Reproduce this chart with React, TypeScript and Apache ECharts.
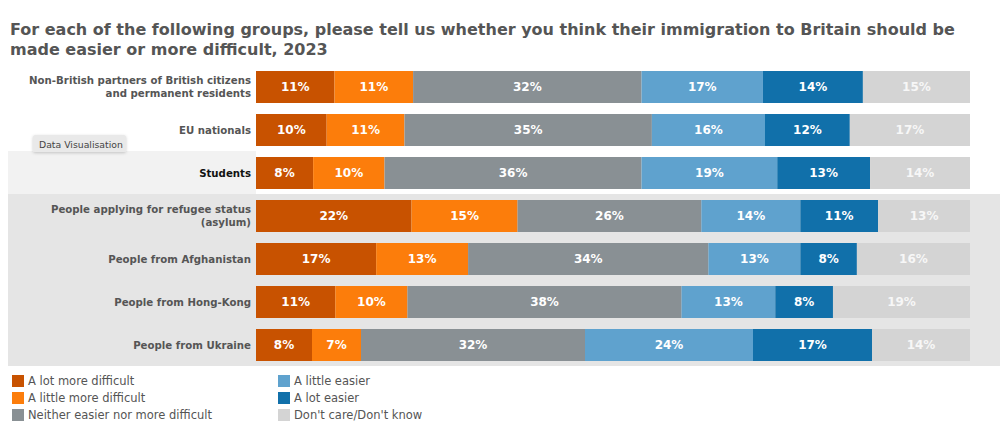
import React, { useEffect, useRef } from "react";
import * as echarts from "echarts";

const TITLE = "For each of the following groups, please tell us whether you think their immigration to Britain should be\nmade easier or more difficult, 2023";

const categories = [
  "Non-British partners of British citizens\nand permanent residents",
  "EU nationals",
  "Students",
  "People applying for refugee status\n(asylum)",
  "People from Afghanistan",
  "People from Hong-Kong",
  "People from Ukraine",
];

const seriesNames = [
  "A lot more difficult",
  "A little more difficult",
  "Neither easier nor more difficult",
  "A little easier",
  "A lot easier",
  "Don't care/Don't know",
];

const aLotMoreDifficult = [11, 10, 8, 22, 17, 11, 8];
const aLittleMoreDifficult = [11, 11, 10, 15, 13, 10, 7];
const neither = [32, 35, 36, 26, 34, 38, 32];
const aLittleEasier = [17, 16, 19, 14, 13, 13, 24];
const aLotEasier = [14, 12, 13, 11, 8, 8, 17];
const dontKnow = [15, 17, 14, 13, 16, 19, 14];

const seriesValues = [
  aLotMoreDifficult,
  aLittleMoreDifficult,
  neither,
  aLittleEasier,
  aLotEasier,
  dontKnow,
];

const colors = ["#c85200", "#fc7d0b", "#899094", "#5fa2ce", "#1170aa", "#d4d4d4"];
const labelColors = ["#ffffff", "#ffffff", "#ffffff", "#ffffff", "#ffffff", "#f7f7f7"];

const FONT = "DejaVu Sans, Verdana, sans-serif";

export default function App() {
  const ref = useRef<HTMLDivElement>(null);

  useEffect(() => {
    if (!ref.current) return;
    const chart = echarts.init(ref.current, null, { renderer: "svg" });

    const rowSums = categories.map((_, i) =>
      seriesValues.reduce((s, arr) => s + arr[i], 0)
    );

    const series = seriesNames.map((name, si) => ({
      name,
      type: "bar",
      stack: "total",
      barWidth: 32,
      z: 3,
      itemStyle: { color: colors[si] },
      label: {
        show: true,
        position: "inside",
        color: labelColors[si],
        fontFamily: FONT,
        fontWeight: "bold",
        fontSize: 12,
        formatter: (p: any) => `${seriesValues[si][p.dataIndex]}%`,
      },
      data: seriesValues[si].map((v, i) => (v / rowSums[i]) * 100),
    }));

    const legendCommon = {
      orient: "vertical",
      top: 375,
      padding: 0,
      itemWidth: 12,
      itemHeight: 12,
      itemGap: 5,
      icon: "rect",
      selectedMode: false,
      textStyle: { fontFamily: FONT, fontSize: 11.5, color: "#555555", padding: [0, 0, 0, -1] },
    };

    chart.setOption({
      animation: false,
      backgroundColor: "#ffffff",
      title: {
        text: TITLE,
        left: 10,
        top: 19,
        padding: 0,
        textStyle: {
          fontFamily: FONT,
          fontSize: 16,
          fontWeight: "bold",
          color: "#555555",
          lineHeight: 20,
        },
      },
      legend: [
        { ...legendCommon, data: seriesNames.slice(0, 3), left: 12 },
        { ...legendCommon, data: seriesNames.slice(3), left: 278 },
      ],
      grid: { left: 256, right: 30, top: 65.5, bottom: 80.5, containLabel: false },
      xAxis: { type: "value", min: 0, max: 100, show: false },
      yAxis: {
        type: "category",
        inverse: true,
        data: categories,
        axisLine: { show: false },
        axisTick: { show: false },
        splitLine: { show: false },
        axisLabel: {
          margin: 5,
          fontFamily: FONT,
          fontWeight: "bold",
          fontSize: 10.2,
          lineHeight: 13,
          color: (v: string) => (v === "Students" ? "#111111" : "#555555"),
        },
      },
      graphic: [
        {
          type: "rect",
          z: -10,
          silent: true,
          shape: { x: 8, y: 151, width: 248, height: 43 },
          style: { fill: "#f2f2f2" },
        },
        {
          type: "rect",
          z: -10,
          silent: true,
          shape: { x: 8, y: 194, width: 992, height: 172 },
          style: { fill: "#e5e5e5" },
        },
        {
          type: "rect",
          z: 50,
          silent: true,
          shape: { x: 33, y: 135, width: 93, height: 17, r: 2 },
          style: {
            fill: "#e9e9e9",
            shadowBlur: 3,
            shadowColor: "rgba(0,0,0,0.2)",
            shadowOffsetY: 1,
          },
        },
        {
          type: "text",
          z: 51,
          silent: true,
          x: 39,
          y: 144,
          style: {
            text: "Data Visualisation",
            fill: "#444444",
            font: `9.3px ${FONT}`,
            verticalAlign: "middle",
          },
        },
      ],
      series,
    });

    return () => chart.dispose();
  }, []);

  return (
    <div
      ref={ref}
      style={{ position: "fixed", left: 0, top: 0, width: 1000, height: 447 }}
    />
  );
}
